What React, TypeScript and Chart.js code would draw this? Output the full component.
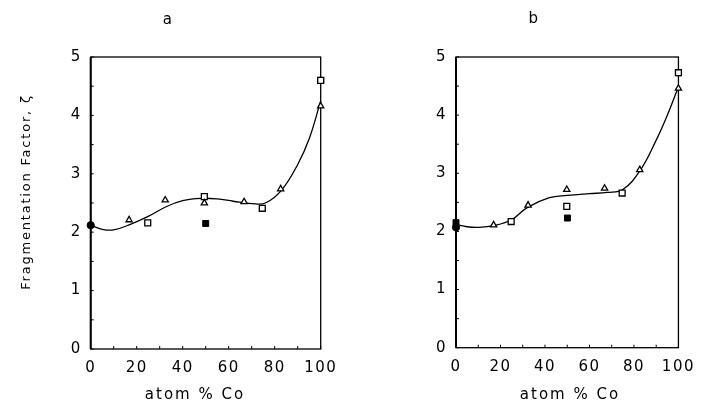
import React, { useEffect, useRef } from "react";
import { Chart, registerables } from "chart.js";

Chart.register(...registerables);

// ---- tick values ----
const xTickLabels = [0, 20, 40, 60, 80, 100];
const yTickLabels = [0, 1, 2, 3, 4, 5];
const xTickMarks = [0, 10, 20, 30, 40, 50, 60, 70, 80, 90, 100];
const yTickMarks = [0, 0.5, 1, 1.5, 2, 2.5, 3, 3.5, 4, 4.5, 5];

// ---- text ----
const yAxisTitle = "Fragmentation Factor, ζ";
const xAxisTitle = "atom % Co";
const panelNames = ["a", "b"];

// ---- panel a ----
const aTriX = [16.7, 32.4, 49.4, 66.7, 82.6, 100];
const aTriY = [2.21, 2.55, 2.5, 2.52, 2.74, 4.16];
const aOpenSqX = [24.8, 49.4, 74.6, 100];
const aOpenSqY = [2.16, 2.61, 2.41, 4.6];
const aFilledSqX = [50, 100];
const aFilledSqY = [2.15, 4.6];
const aFilledCircX = [0];
const aFilledCircY = [2.12];
const aCurveX = [0, 5, 10, 17, 25, 33, 40, 48, 55, 62, 70, 76, 83, 90, 95, 100];
const aCurveY = [2.12, 2.05, 2.04, 2.13, 2.27, 2.44, 2.54, 2.58, 2.57, 2.53, 2.49, 2.5, 2.72, 3.16, 3.6, 4.25];

// ---- panel b ----
const bTriX = [16.9, 32.4, 49.8, 66.8, 82.6, 100];
const bTriY = [2.11, 2.45, 2.72, 2.74, 3.06, 4.46];
const bOpenSqX = [24.8, 49.8, 74.7, 100];
const bOpenSqY = [2.17, 2.43, 2.66, 4.73];
const bFilledSqX = [0, 50.1, 100];
const bFilledSqY = [2.15, 2.23, 4.73];
const bFilledCircX = [0];
const bFilledCircY = [2.07];
const bCurveX = [0, 5, 10, 17, 25, 32, 42, 50, 60, 68, 75, 83, 90, 95, 100];
const bCurveY = [2.12, 2.08, 2.07, 2.1, 2.2, 2.41, 2.58, 2.62, 2.65, 2.67, 2.72, 3.06, 3.57, 4.0, 4.49];

const zip = (xs: number[], ys: number[]) => xs.map((x, i) => ({ x, y: ys[i] }));

const FONT = "'DejaVu Sans', sans-serif";
const SPACING = "1.5px";

const spacingPlugin = {
  id: "spacing",
  beforeUpdate(chart: any) {
    chart.ctx.letterSpacing = SPACING;
  },
  beforeDraw(chart: any) {
    chart.ctx.letterSpacing = SPACING;
  },
};

const frameTicksPlugin = {
  id: "frameTicks",
  beforeDatasetsDraw(chart: any) {
    const { ctx, chartArea: a, scales } = chart;
    const xs = scales.x;
    const ys = scales.y;
    ctx.save();
    ctx.strokeStyle = "#000";
    ctx.lineWidth = 1.3;
    ctx.strokeRect(a.left, a.top, a.right - a.left, a.bottom - a.top);
    ctx.lineWidth = 2;
    ctx.beginPath();
    ctx.moveTo(a.left, a.top);
    ctx.lineTo(a.left, a.bottom);
    ctx.stroke();
    ctx.lineWidth = 1;
    ctx.beginPath();
    xTickMarks.forEach((v) => {
      const px = xs.getPixelForValue(v);
      ctx.moveTo(px, a.bottom);
      ctx.lineTo(px, a.bottom - 3);
    });
    yTickMarks.forEach((v) => {
      const py = ys.getPixelForValue(v);
      ctx.moveTo(a.left, py);
      ctx.lineTo(a.left + 3, py);
    });
    ctx.stroke();
    ctx.restore();
  },
};

const textPlugin = {
  id: "texts",
  afterDraw(chart: any, _args: any, opts: any) {
    const ctx = chart.ctx;
    (opts.items || []).forEach((it: any) => {
      ctx.save();
      ctx.letterSpacing = it.spacing || SPACING;
      ctx.fillStyle = "#000";
      ctx.font = `${it.size}px ${FONT}`;
      ctx.textAlign = "center";
      ctx.textBaseline = "middle";
      ctx.translate(it.x, it.y);
      if (it.rotate) ctx.rotate(it.rotate);
      ctx.fillText(it.text, 0, 0);
      ctx.restore();
    });
  },
};

type PanelCfg = {
  tri: { x: number; y: number }[];
  openSq: { x: number; y: number }[];
  filledSq: { x: number; y: number }[];
  filledCirc: { x: number; y: number }[];
  curve: { x: number; y: number }[];
  yScaleWidth: number;
  padding: { left: number; right: number; top: number; bottom: number };
  texts: any[];
};

function makeConfig(p: PanelCfg): any {
  return {
    type: "scatter",
    data: {
      datasets: [
        {
          label: "fit",
          data: p.curve,
          showLine: true,
          pointRadius: 0,
          borderColor: "#000",
          borderWidth: 1.3,
          tension: 0.4,
          clip: false,
          order: 5,
        },
        {
          label: "triangles",
          data: p.tri,
          pointStyle: "triangle",
          pointRadius: 3.6,
          backgroundColor: "#fff",
          borderColor: "#000",
          borderWidth: 1.3,
          clip: false,
          order: 1,
        },
        {
          label: "open squares",
          data: p.openSq,
          pointStyle: "rect",
          pointRadius: 4.2,
          backgroundColor: "#fff",
          borderColor: "#000",
          borderWidth: 1.3,
          clip: false,
          order: 2,
        },
        {
          label: "filled squares",
          data: p.filledSq,
          pointStyle: "rect",
          pointRadius: 4.2,
          backgroundColor: "#000",
          borderColor: "#000",
          borderWidth: 1,
          clip: false,
          order: 3,
        },
        {
          label: "filled circles",
          data: p.filledCirc,
          pointStyle: "circle",
          pointRadius: 3.6,
          backgroundColor: "#000",
          borderColor: "#000",
          borderWidth: 1,
          clip: false,
          order: 4,
        },
      ],
    },
    options: {
      responsive: false,
      animation: false,
      events: [],
      layout: { padding: p.padding },
      plugins: {
        legend: { display: false },
        tooltip: { enabled: false },
        texts: { items: p.texts },
      },
      scales: {
        x: {
          type: "linear",
          min: 0,
          max: 100,
          border: { display: false },
          grid: { display: false, drawTicks: false },
          afterBuildTicks: (s: any) => {
            s.ticks = xTickLabels.map((v) => ({ value: v }));
          },
          afterFit: (s: any) => {
            s.height = 60;
          },
          ticks: {
            color: "#000",
            padding: 10,
            maxRotation: 0,
            autoSkip: false,
            font: { family: FONT, size: 15 },
          },
        },
        y: {
          type: "linear",
          min: 0,
          max: 5,
          border: { display: false },
          grid: { display: false, drawTicks: false },
          afterBuildTicks: (s: any) => {
            s.ticks = yTickLabels.map((v) => ({ value: v }));
          },
          afterFit: (s: any) => {
            s.width = p.yScaleWidth;
          },
          ticks: {
            color: "#000",
            padding: 9,
            autoSkip: false,
            font: { family: FONT, size: 15 },
          },
        },
      },
    },
    plugins: [spacingPlugin, frameTicksPlugin, textPlugin],
  };
}

function Panel(props: { cfg: PanelCfg; left: number; width: number }) {
  const ref = useRef<HTMLCanvasElement | null>(null);
  useEffect(() => {
    if (!ref.current) return;
    const chart = new Chart(ref.current, makeConfig(props.cfg));
    return () => chart.destroy();
  }, []);
  return (
    <canvas
      ref={ref}
      width={props.width}
      height={416}
      style={{ position: "absolute", left: props.left, top: 0, width: props.width, height: 416 }}
    />
  );
}

const panelA: PanelCfg = {
  tri: zip(aTriX, aTriY),
  openSq: zip(aOpenSqX, aOpenSqY),
  filledSq: zip(aFilledSqX, aFilledSqY),
  filledCirc: zip(aFilledCircX, aFilledCircY),
  curve: zip(aCurveX, aCurveY),
  yScaleWidth: 90.7,
  padding: { left: 0, right: 31.3, top: 57, bottom: 7 },
  texts: [
    { text: panelNames[0], x: 168, y: 20, size: 15 },
    { text: xAxisTitle, x: 195, y: 395, size: 15, spacing: "2px" },
    { text: yAxisTitle, x: 27, y: 192, size: 13, rotate: -Math.PI / 2, spacing: "1.8px" },
  ],
};

const panelB: PanelCfg = {
  tri: zip(bTriX, bTriY),
  openSq: zip(bOpenSqX, bOpenSqY),
  filledSq: zip(bFilledSqX, bFilledSqY),
  filledCirc: zip(bFilledCircX, bFilledCircY),
  curve: zip(bCurveX, bCurveY),
  yScaleWidth: 104,
  padding: { left: 0, right: 18.3, top: 57, bottom: 8.3 },
  texts: [
    { text: panelNames[1], x: 182, y: 19, size: 15 },
    { text: xAxisTitle, x: 218, y: 395, size: 15, spacing: "2px" },
  ],
};

export default function App() {
  return (
    <div style={{ position: "fixed", left: 0, top: 0, width: 705, height: 416, background: "#fff" }}>
      <Panel cfg={panelA} left={0} width={352} />
      <Panel cfg={panelB} left={352} width={353} />
    </div>
  );
}
